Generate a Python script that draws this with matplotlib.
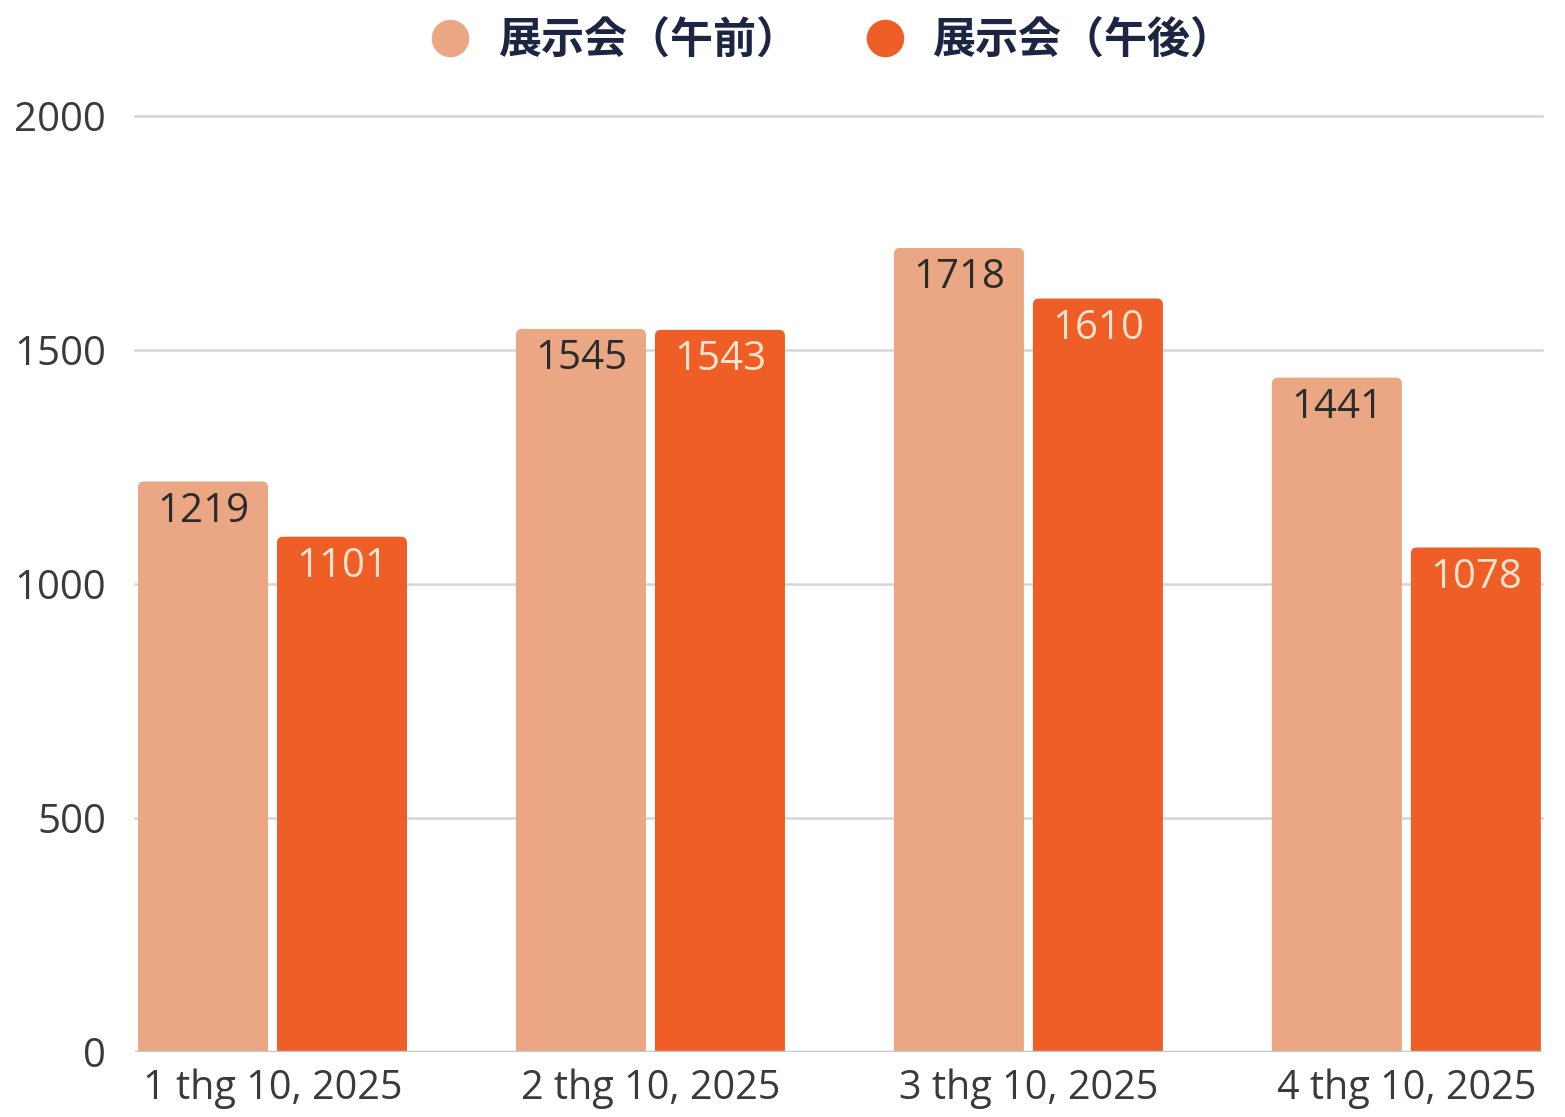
import matplotlib
matplotlib.use("Agg")
import matplotlib.pyplot as plt
from matplotlib.patches import FancyBboxPatch
from matplotlib.lines import Line2D
import numpy as np

categories = ["1 thg 10, 2025", "2 thg 10, 2025", "3 thg 10, 2025", "4 thg 10, 2025"]
series_names = ["展示会（午前）", "展示会（午後）"]
morning = [1219, 1545, 1718, 1441]
afternoon = [1101, 1543, 1610, 1078]
yticks = [0, 500, 1000, 1500, 2000]

c_light = "#EBA784"
c_dark = "#EE5E26"
lbl_light = "#2B2B2B"
lbl_dark = "#FBE3CC"

W, H = 1565, 1117
fig = plt.figure(figsize=(W / 100, H / 100), dpi=100)
ylim_top = 2030
ax_left, ax_right = 135 / W, 1542 / W
ax_bottom = 1 - 1052 / H
ax_top_px = 1052 - ylim_top * (936 / 2000)
ax = fig.add_axes([ax_left, ax_bottom, ax_right - ax_left, (1052 - ax_top_px) / H])

bw = 130 / 378
gap = 9 / 378
x = np.arange(len(categories))
ax.set_xlim(-bw - gap / 2 - 0.008, len(categories) - 1 + bw + gap / 2 + 0.003)
ax.set_ylim(0, ylim_top)

px_x = 1 / 378
px_y = 2000 / 936
r = 6
for i in range(len(categories)):
    for j, (vals, col, lc) in enumerate([(morning, c_light, lbl_light), (afternoon, c_dark, lbl_dark)]):
        left = x[i] - gap / 2 - bw if j == 0 else x[i] + gap / 2
        v = vals[i]
        p = FancyBboxPatch((left, -30), bw, v + 30,
                           boxstyle=f"round,pad=0,rounding_size={r * px_x}",
                           mutation_aspect=px_y / px_x,
                           facecolor=col, edgecolor="none", zorder=3)
        ax.add_patch(p)
        ax.text(left + bw / 2, v - 30 * px_y, str(v), ha="center", va="center",
                fontsize=29, color=lc, family="Open Sans", zorder=4)

ax.set_yticks(yticks)
ax.set_yticklabels([str(t) for t in yticks], family="Open Sans", fontsize=29, color="#3A3A3A")
ax.set_xticks(x)
ax.set_xticklabels(categories, family="Open Sans", fontsize=28.5, color="#3A3A3A")
ax.tick_params(axis="y", length=0, pad=21)
ax.tick_params(axis="x", length=0, pad=12)
for s in ax.spines.values():
    s.set_visible(False)
for t in yticks[1:]:
    ax.axhline(t, color="#D5D5D5", lw=1.8, zorder=1, clip_on=False)
ax.axhline(0, color="#C6C6C6", lw=2.5, zorder=5)

handles = [Line2D([], [], marker="o", ls="none", markersize=27, markerfacecolor=c_light, markeredgecolor="none"),
           Line2D([], [], marker="o", ls="none", markersize=27, markerfacecolor=c_dark, markeredgecolor="none")]
leg = fig.legend(handles, series_names, loc="center", bbox_to_anchor=(0.531, 1 - 40 / H), ncol=2,
                 frameon=False, handletextpad=0.6, columnspacing=1.5, handlelength=1.0,
                 prop={"family": ["Noto Sans CJK JP", "DejaVu Sans"], "weight": "bold", "size": 31})
for t in leg.get_texts():
    t.set_color("#1C2541")

fig.savefig("out.png", dpi=100, facecolor="white")
